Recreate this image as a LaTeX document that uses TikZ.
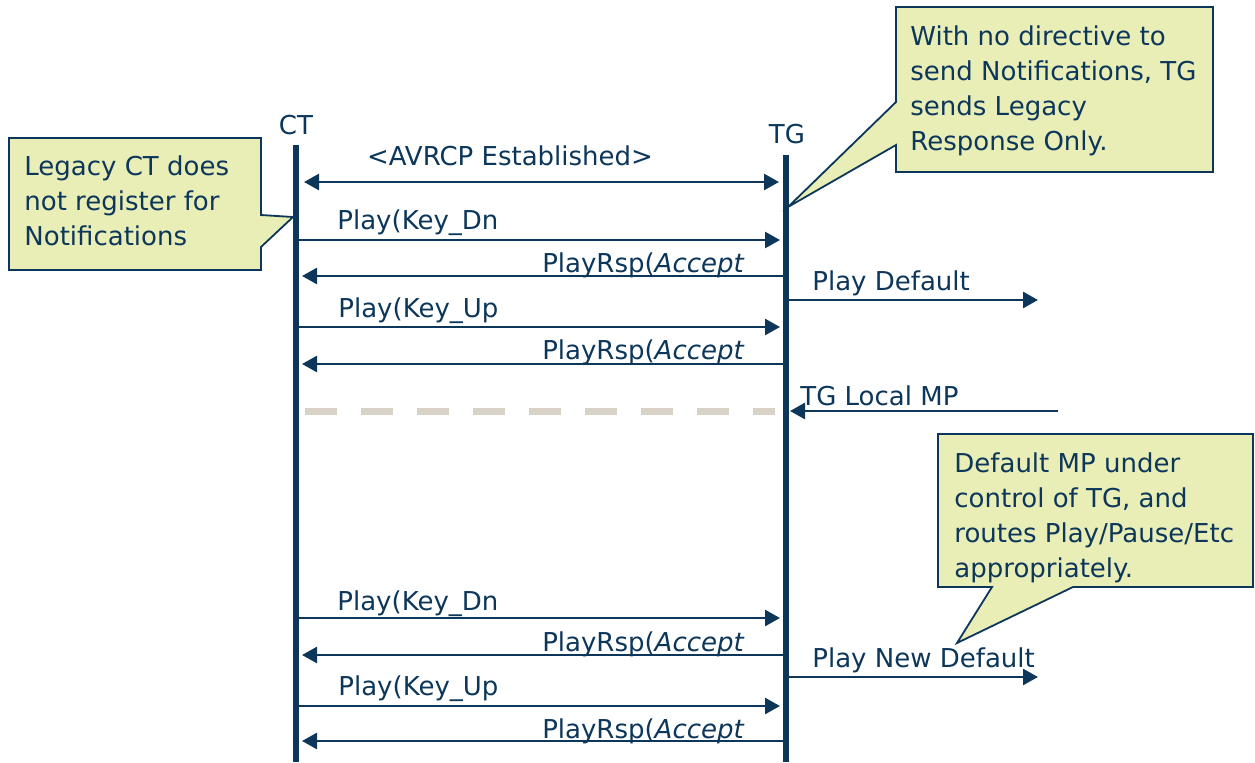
\documentclass[tikz,border=0pt]{standalone}
\usepackage{fontspec}
\setmainfont{DejaVu Sans}
\usetikzlibrary{arrows.meta}
\definecolor{navy}{RGB}{12,54,90}
\definecolor{notefill}{RGB}{233,238,183}
\definecolor{sepgray}{RGB}{217,211,199}
\begin{document}
\begin{tikzpicture}[x=0.5pt,y=-0.5pt,
  every node/.style={text=navy,font=\fontsize{13}{17.6}\selectfont,inner sep=0pt},
  life/.style={draw=navy,line width=2.6pt},
  msg/.style={draw=navy,line width=1.3pt,-{Triangle[length=7.5pt,width=8pt]}},
  dmsg/.style={draw=navy,line width=1.3pt,{Triangle[length=7.5pt,width=8pt]}-{Triangle[length=7.5pt,width=8pt]}},
  note/.style={draw=navy,line width=0.9pt,fill=notefill,line join=miter},
  lbl/.style={anchor=base west},
  rlbl/.style={anchor=base east},
  notetext/.style={anchor=north west,align=left},
  sep/.style={draw=sepgray,line width=3.5pt,dash pattern=on 16pt off 12pt}
]
\useasboundingbox (0,0) rectangle (1255,762);

% callouts
\draw[note] (9,138) -- (261,138) -- (261,215) -- (293,217) -- (261,247) -- (261,270) -- (9,270) -- cycle;
\node[notetext] (n1) at (24,155) {Legacy CT does\\not register for\\Notifications};
\draw[note] (896,7) -- (1213,7) -- (1213,172) -- (896,172) -- (896,145) -- (788,207) -- (896,102) -- cycle;
\node[notetext] (n2) at (910,25) {With no directive to\\send Notifications, TG\\sends Legacy\\Response Only.};
\draw[note] (938,434) -- (1253,434) -- (1253,587) -- (1073,587) -- (957,643) -- (992,587) -- (938,587) -- cycle;
\node[notetext] (n3) at (954,452) {Default MP under\\control of TG, and\\routes Play/Pause/Etc\\appropriately.};

% lifelines
\node[anchor=base] (ctl) at (296,134) {CT};
\node[anchor=base] (tgl) at (787,143) {TG};
\coordinate (ct0) at (296,145);
\coordinate (ct1) at (296,762);
\coordinate (tg0) at (786,155);
\coordinate (tg1) at (786,762);
\draw[life] (ct0) -- (ct1);
\draw[life] (tg0) -- (tg1);

% message end points
\coordinate (a1) at (304,182);  \coordinate (b1) at (779,182);
\coordinate (a2) at (297,240);  \coordinate (b2) at (780,240);
\coordinate (a3) at (786,276);  \coordinate (b3) at (302,276);
\coordinate (a4) at (786,300);  \coordinate (b4) at (1038,300);
\coordinate (a5) at (297,327);  \coordinate (b5) at (780,327);
\coordinate (a6) at (786,364);  \coordinate (b6) at (302,364);
\coordinate (a7) at (1058,411); \coordinate (b7) at (790,411);
\coordinate (s0) at (305,411);  \coordinate (s1) at (775,411);
\coordinate (a9) at (297,618);  \coordinate (b9) at (780,618);
\coordinate (a10) at (786,655); \coordinate (b10) at (302,655);
\coordinate (a11) at (786,677); \coordinate (b11) at (1038,677);
\coordinate (a12) at (297,706); \coordinate (b12) at (780,706);
\coordinate (a13) at (786,741); \coordinate (b13) at (302,741);

\draw[dmsg] (a1) -- (b1);
\draw[msg] (a2) -- (b2);
\draw[msg] (a3) -- (b3);
\draw[msg] (a4) -- (b4);
\draw[msg] (a5) -- (b5);
\draw[msg] (a6) -- (b6);
\draw[msg] (a7) -- (b7);
\draw[sep] (s0) -- (s1);
\draw[msg] (a9) -- (b9);
\draw[msg] (a10) -- (b10);
\draw[msg] (a11) -- (b11);
\draw[msg] (a12) -- (b12);
\draw[msg] (a13) -- (b13);

% labels
\node[anchor=base] (l1) at (510,165) {<AVRCP Established>};
\node[lbl] (l2) at (337,229) {Play(Key\_Dn};
\node[rlbl] (l3) at (745,272) {PlayRsp(\textit{Accept}};
\node[lbl] (l4) at (812,290) {Play Default};
\node[lbl] (l5) at (338,317) {Play(Key\_Up};
\node[rlbl] (l6) at (745,359) {PlayRsp(\textit{Accept}};
\node[lbl] (l7) at (800,405) {TG Local MP};
\node[lbl] (l9) at (337,610) {Play(Key\_Dn};
\node[rlbl] (l10) at (745,651) {PlayRsp(\textit{Accept}};
\node[lbl] (l11) at (812,667) {Play New Default};
\node[lbl] (l12) at (338,695) {Play(Key\_Up};
\node[rlbl] (l13) at (745,738) {PlayRsp(\textit{Accept}};
\end{tikzpicture}
\end{document}
